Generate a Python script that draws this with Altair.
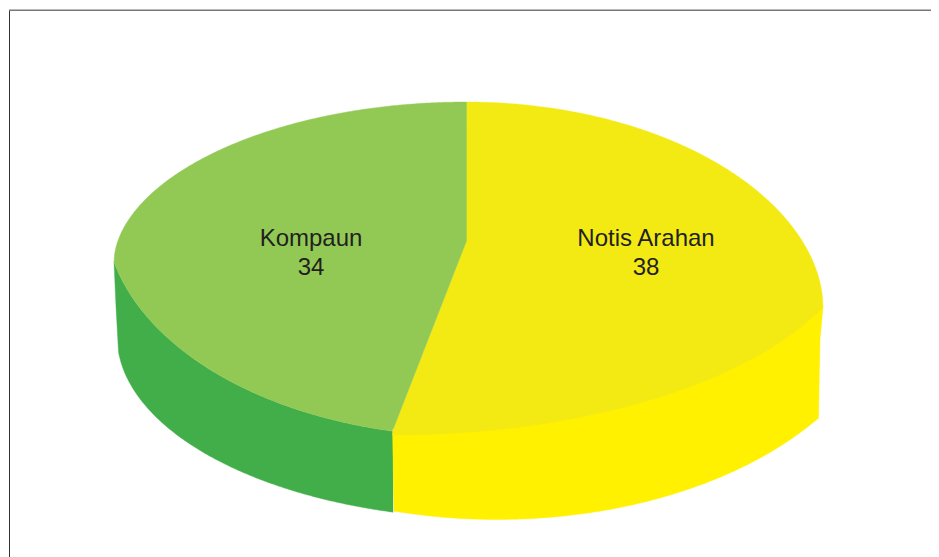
import altair as alt
import numpy as np
import pandas as pd

# Values of the chart
categories = ["Kompaun", "Notis Arahan"]
counts = [34, 38]
label_x = [311, 646]
label_name_y = [239, 239]
label_value_y = [268, 268]

GREEN_TOP = "#92c955"
GREEN_SIDE = "#41ae49"
YELLOW_TOP = "#f3ea14"
YELLOW_SIDE = "#fff100"

# Pie layout (picture units)
apex = (466.5, 241)
split_rim = (392.5, 431)
WIDTH, HEIGHT = 923, 549

sx = alt.Scale(domain=[8, 8 + WIDTH], nice=False, zero=False)
sy = alt.Scale(domain=[8 + HEIGHT, 8], nice=False, zero=False)


def arc(x, cx, a, cy, b, p=0.5):
    u = np.clip(np.abs(np.asarray(x, float) - cx) / a, 0, 1)
    return cy + b * (1 - u ** 2) ** p


def green_rim_top(x):
    return 262 - (arc(x, 466.5, 352.5, 0, 160, 0.53))


def yellow_rim_top(x):
    return 307 - arc(x, 466.5, 356.5, 0, 205, 0.52)


def green_rim_low(x):
    return arc(x, 470, 365, 212.6, 223.6)


def yellow_rim_low(x):
    return arc(x, 393, 470, 220.6, 214.4)


def green_outer(x):
    return arc(x, 495, 378, 336, 183)


def yellow_outer(x):
    return arc(x, 497, 394, 279, 240.5)


def split_line(x):
    return split_rim[1] + (np.asarray(x, float) - split_rim[0]) * (apex[1] - split_rim[1]) / (apex[0] - split_rim[0])


def region(xs, ys, y2s, color):
    df = pd.DataFrame({"x": xs, "y": ys, "y2": y2s})
    return alt.Chart(df).mark_area(
        color=color, stroke=color, strokeWidth=0.4, interpolate="linear"
    ).encode(
        x=alt.X("x:Q", scale=sx, axis=None),
        y=alt.Y("y:Q", scale=sy, axis=None),
        y2="y2:Q",
    )


# Green rim face
x_gs1 = np.array([114.0, 116, 118.5])
x_gs2 = np.arange(119.0, 394.5, 2.0)
gs_x = np.concatenate([x_gs1, x_gs2])
gs_y = green_rim_low(gs_x)
gs_y2 = np.concatenate([[262, 307, 352], green_outer(x_gs2)])

# Yellow rim face
x_ys1 = np.arange(394.0, 818.5, 2.0)
x_ys2 = np.array([818.5, 820.0, 823.0])
ys_x = np.concatenate([[392.6], x_ys1, x_ys2])
ys_y = yellow_rim_low(ys_x) - 1
ys_y2 = np.concatenate([[436], yellow_outer(x_ys1), [419, 340, 307]])

# Green top face
x_gt = np.concatenate([[114.0, 114.5, 115, 115.5, 116, 117], np.arange(118.0, 466.0, 2.0), [466.5]])
gt_y = green_rim_top(x_gt)
gt_y2 = np.where(x_gt <= split_rim[0], green_rim_low(x_gt), split_line(x_gt))
gt_y2[0] = gt_y[0]

# Yellow top face
x_yt1 = np.arange(392.5, 466.5, 2.0)
x_yt2 = np.concatenate([np.arange(466.5, 815.0, 2.0), [816, 817, 818, 819, 820, 821, 822, 822.5, 823]])
yt_x = np.concatenate([x_yt1, x_yt2])
yt_y = np.concatenate([split_line(x_yt1), yellow_rim_top(x_yt2)])
yt_y2 = yellow_rim_low(yt_x)
yt_y2 = np.maximum(yt_y2, yt_y)

left = alt.Chart(pd.DataFrame({"x": [9.5], "y": [10], "y2": [8 + HEIGHT]})).mark_rule(
    color="#333333", strokeWidth=1
).encode(
    x=alt.X("x:Q", scale=sx, axis=None),
    y=alt.Y("y:Q", scale=sy, axis=None),
    y2="y2:Q",
)
top = alt.Chart(pd.DataFrame({"x": [9], "x2": [8 + WIDTH], "y": [10.3]})).mark_rule(
    color="#777777", strokeWidth=1.5
).encode(
    x=alt.X("x:Q", scale=sx, axis=None),
    x2="x2:Q",
    y=alt.Y("y:Q", scale=sy, axis=None),
)

labels = pd.DataFrame({
    "x": label_x * 2,
    "y": label_name_y + label_value_y,
    "t": categories + [str(c) for c in counts],
})
text = alt.Chart(labels).mark_text(
    font="Liberation Sans", fontSize=24, color="#231f20", align="center", baseline="middle"
).encode(
    x=alt.X("x:Q", scale=sx, axis=None),
    y=alt.Y("y:Q", scale=sy, axis=None),
    text="t:N",
)

chart = alt.layer(
    left,
    top,
    region(gs_x, gs_y, gs_y2, GREEN_SIDE),
    region(ys_x, ys_y, ys_y2, YELLOW_SIDE),
    region(yt_x, yt_y, yt_y2, YELLOW_TOP),
    region(x_gt, gt_y, gt_y2, GREEN_TOP),
    text,
).properties(
    width=WIDTH, height=HEIGHT, padding=0, autosize=alt.AutoSizeParams(type="none")
).configure_view(stroke=None)

chart.save("out.html", embed_options={"renderer": "svg", "actions": False})
